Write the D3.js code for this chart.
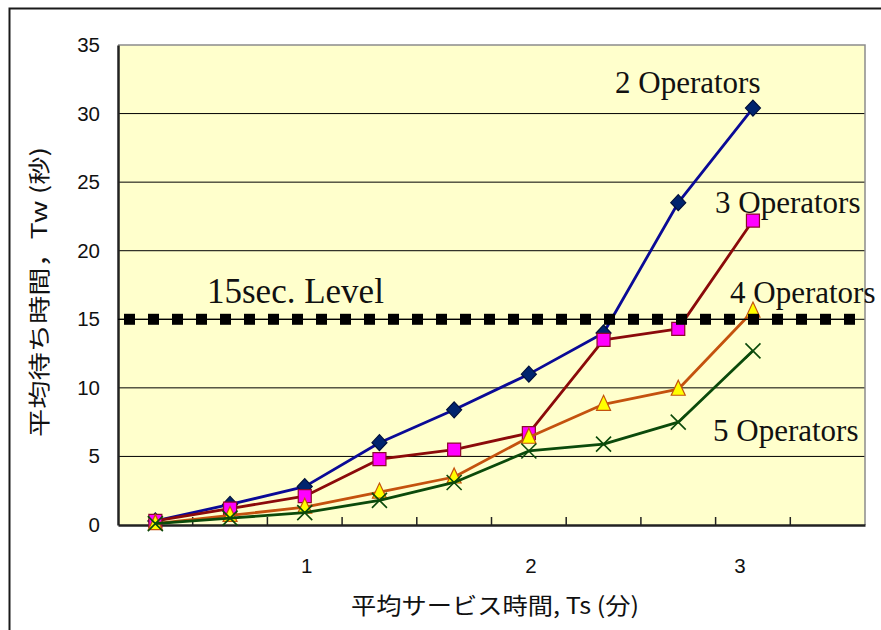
<!DOCTYPE html>
<html>
<head>
<meta charset="utf-8">
<script src="https://cdn.jsdelivr.net/npm/d3@7/dist/d3.min.js"></script>
<style>
  html, body { margin: 0; padding: 0; background: #fff; }
  svg { display: block; }
</style>
</head>
<body>
<script>
// Mean service time categories (1/3-minute steps); the last slot is left empty
const serviceSlots = ["s1", "s2", "s3", "s4", "s5", "s6", "s7", "s8", "s9", "s10"];
const xTickLabels = [
  { slot: "s3", text: "1" },
  { slot: "s6", text: "2" },
  { slot: "s9", text: "3" }
];
const yTicks = [0, 5, 10, 15, 20, 25, 30, 35];

// Mean waiting time (sec) per number of operators
const ops2 = [0.3, 1.5, 2.8, 6.0, 8.4, 11.0, 14.0, 23.5, 30.4];
const ops3 = [0.3, 1.2, 2.1, 4.8, 5.5, 6.7, 13.5, 14.3, 22.2];
const ops4 = [0.1, 0.7, 1.3, 2.4, 3.5, 6.4, 8.8, 9.9, 15.6];
const ops5 = [0.1, 0.5, 0.9, 1.8, 3.1, 5.4, 5.9, 7.5, 12.7];

// 15-second service level reference line
const levelWait = [15, 15, 15, 15, 15, 15, 15, 15, 15, 15, 15, 15, 15, 15, 15, 15,
                   15, 15, 15, 15, 15, 15, 15, 15, 15, 15, 15, 15, 15, 15, 15];

const seriesNames = ["2 Operators", "3 Operators", "4 Operators", "5 Operators"];

const W = 881, H = 630;
const plotLeft = 118, plotRight = 865, plotTop = 45, plotBottom = 525;

const svg = d3.select("body").append("svg")
  .attr("width", W).attr("height", H);

// outer chart frame (continues past the window edges)
svg.append("path")
  .attr("d", `M9.5,${H} V8.5 H${W}`)
  .attr("fill", "none").attr("stroke", "#1a1a1a").attr("stroke-width", 2);

const x = d3.scaleBand().domain(serviceSlots).range([plotLeft, plotRight]).padding(0);
const y = d3.scaleLinear().domain([0, 35]).range([plotBottom, plotTop]);
const cx = s => x(s) + x.bandwidth() / 2;

// plot area
svg.append("rect")
  .attr("x", plotLeft).attr("y", plotTop)
  .attr("width", plotRight - plotLeft).attr("height", plotBottom - plotTop)
  .attr("fill", "#FFFFCC");

// horizontal gridlines
svg.append("g").selectAll("line")
  .data(yTicks.filter(v => v > 0 && v < 35))
  .join("line")
  .attr("x1", plotLeft).attr("x2", plotRight)
  .attr("y1", d => y(d)).attr("y2", d => y(d))
  .attr("stroke", "#000").attr("stroke-width", 1);

// plot area border (top / right)
svg.append("path")
  .attr("d", `M${plotLeft},${y(35)} H${plotRight} V${plotBottom}`)
  .attr("fill", "none").attr("stroke", "#8c8c8c").attr("stroke-width", 1.5);

// x axis line with inward tick marks at category boundaries
const xAxis = d3.axisBottom(x).tickSize(0).tickFormat("");
const gx = svg.append("g").attr("transform", `translate(0,${plotBottom})`).call(xAxis);
gx.select(".domain").attr("stroke", "#222").attr("stroke-width", 2.5);
svg.append("g").selectAll("line")
  .data(serviceSlots.slice(1))
  .join("line")
  .attr("x1", d => x(d)).attr("x2", d => x(d))
  .attr("y1", plotBottom).attr("y2", plotBottom - 8)
  .attr("stroke", "#222").attr("stroke-width", 1.5);

// y axis line and labels
const tickFont = "'Liberation Sans', Arial, sans-serif";
const gy = svg.append("g").attr("transform", `translate(${plotLeft},0)`)
  .call(d3.axisLeft(y).tickValues(yTicks).tickSize(0).tickPadding(18));
gy.select(".domain").attr("stroke", "#222").attr("stroke-width", 2.5);
gy.selectAll("text")
  .attr("font-family", tickFont)
  .attr("font-size", 20.5).attr("fill", "#111");

// x tick labels
svg.append("g").selectAll("text")
  .data(xTickLabels)
  .join("text")
  .attr("x", d => cx(d.slot))
  .attr("dx", d => d.text === "3" ? -13 : 2)
  .attr("y", 573)
  .attr("text-anchor", "middle")
  .attr("font-family", tickFont)
  .attr("font-size", 20.5).attr("fill", "#111")
  .text(d => d.text);

// axis titles
svg.append("text")
  .attr("x", 495).attr("y", 614)
  .attr("text-anchor", "middle")
  .attr("font-family", "'Noto Sans CJK JP', sans-serif")
  .attr("font-size", 23).attr("fill", "#111")
  .attr("textLength", 288).attr("lengthAdjust", "spacingAndGlyphs")
  .text("平均サービス時間, Ts (分)");

svg.append("text")
  .attr("transform", "translate(47,292) rotate(-90)")
  .attr("text-anchor", "middle")
  .attr("font-family", "'Noto Sans CJK JP', sans-serif")
  .attr("font-size", 22).attr("fill", "#111")
  .attr("textLength", 290).attr("lengthAdjust", "spacingAndGlyphs")
  .text("平均待ち時間，Tw (秒)");

// series
const line = d3.line().x((d, i) => cx(serviceSlots[i])).y(d => y(d));

const styles = [
  { data: ops2, stroke: "#0a0a96", marker: "diamond", fill: "#00246e", edge: "#00103c" },
  { data: ops3, stroke: "#8b0a0a", marker: "square", fill: "#ff00ff", edge: "#8b0a2a" },
  { data: ops4, stroke: "#c4520e", marker: "triangle", fill: "#ffff00", edge: "#c4520e" },
  { data: ops5, stroke: "#0b4a0b", marker: "cross", fill: "none", edge: "#0b4a0b" }
];

const shapes = {
  diamond: "M0,-8 L7.5,0 L0,8 L-7.5,0 Z",
  square: "M-6.5,-6.5 H6.5 V6.5 H-6.5 Z",
  triangle: "M0,-9 L7,6 L-7,6 Z",
  cross: "M-7.5,-7.5 L7.5,7.5 M7.5,-7.5 L-7.5,7.5"
};

styles.forEach(s => {
  const g = svg.append("g");
  g.append("path")
    .attr("d", line(s.data))
    .attr("fill", "none").attr("stroke", s.stroke).attr("stroke-width", 2.8)
    .attr("stroke-linejoin", "round");
  g.selectAll("path.m")
    .data(s.data)
    .join("path")
    .attr("class", "m")
    .attr("transform", (d, i) => `translate(${cx(serviceSlots[i])},${y(d)})`)
    .attr("d", shapes[s.marker])
    .attr("fill", s.fill)
    .attr("stroke", s.edge)
    .attr("stroke-width", s.marker === "cross" ? 1.6 : 1.2);
});

// 15-second level line with square markers
const xLevel = d3.scalePoint()
  .domain(d3.range(levelWait.length))
  .range([plotLeft + 11.5, plotRight - 15.5]);
svg.append("line")
  .attr("x1", plotLeft).attr("x2", xLevel(levelWait.length - 1) + 5)
  .attr("y1", y(15)).attr("y2", y(15))
  .attr("stroke", "#000").attr("stroke-width", 1.2);
svg.append("g").selectAll("rect")
  .data(levelWait)
  .join("rect")
  .attr("x", (d, i) => xLevel(i) - 5.5)
  .attr("y", d => y(d) - 5.5)
  .attr("width", 11).attr("height", 11)
  .attr("fill", "#000");

// annotations
const serif = "'Liberation Serif', 'Times New Roman', serif";
const notes = [
  { text: seriesNames[0], x: 615, y: 93, size: 31 },
  { text: seriesNames[1], x: 715, y: 213, size: 31 },
  { text: seriesNames[2], x: 730, y: 303, size: 31 },
  { text: seriesNames[3], x: 713, y: 441, size: 31 },
  { text: "15sec. Level", x: 207, y: 303, size: 35 }
];
svg.append("g").selectAll("text")
  .data(notes)
  .join("text")
  .attr("x", d => d.x).attr("y", d => d.y)
  .attr("font-family", serif)
  .attr("font-size", d => d.size)
  .attr("fill", "#111")
  .text(d => d.text);
</script>
</body>
</html>
